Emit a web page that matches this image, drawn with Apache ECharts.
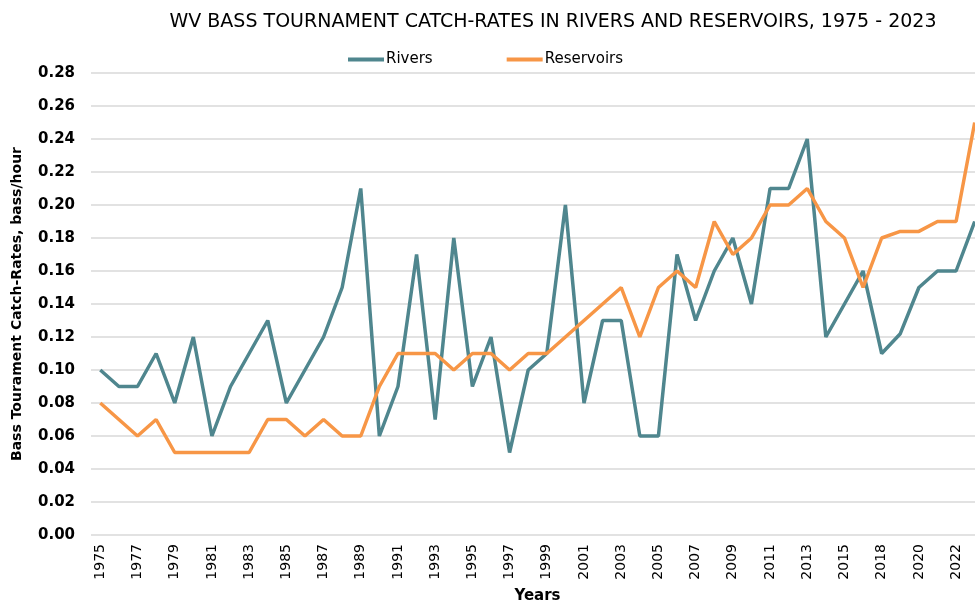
<!DOCTYPE html>
<html>
<head>
<meta charset="utf-8">
<script src="https://cdn.jsdelivr.net/npm/echarts@6/dist/echarts.min.js"></script>
<style>
  html, body { margin: 0; padding: 0; background: #fff; }
  #chart { width: 975px; height: 608px; }
</style>
</head>
<body>
<div id="chart"></div>
<script>
// years (2017 not in the source data)
const years = ['1975', '1976', '1977', '1978', '1979', '1980', '1981', '1982', '1983', '1984',
  '1985', '1986', '1987', '1988', '1989', '1990', '1991', '1992', '1993', '1994',
  '1995', '1996', '1997', '1998', '1999', '2000', '2001', '2002', '2003', '2004',
  '2005', '2006', '2007', '2008', '2009', '2010', '2011', '2012', '2013', '2014',
  '2015', '2016', '2018', '2019', '2020', '2021', '2022', '2023']

const rivers = [0.10, 0.09, 0.09, 0.11, 0.08, 0.12, 0.06, 0.09, 0.11, 0.13,
  0.08, 0.10, 0.12, 0.15, 0.21, 0.06, 0.09, 0.17, 0.07, 0.18,
  0.09, 0.12, 0.05, 0.10, 0.11, 0.20, 0.08, 0.13, 0.13, 0.06,
  0.06, 0.17, 0.13, 0.16, 0.18, 0.14, 0.21, 0.21, 0.24, 0.12,
  0.14, 0.16, 0.11, 0.122, 0.15, 0.16, 0.16, 0.19]

const reservoirs = [0.08, 0.07, 0.06, 0.07, 0.05, 0.05, 0.05, 0.05, 0.05, 0.07,
  0.07, 0.06, 0.07, 0.06, 0.06, 0.09, 0.11, 0.11, 0.11, 0.10,
  0.11, 0.11, 0.10, 0.11, 0.11, 0.12, 0.13, 0.14, 0.15, 0.12,
  0.15, 0.16, 0.15, 0.19, 0.17, 0.18, 0.20, 0.20, 0.21, 0.19,
  0.18, 0.15, 0.18, 0.184, 0.184, 0.19, 0.19, 0.25]

const font = 'Tahoma, "DejaVu Sans", sans-serif'

let option = {
  animation: false,
  title: {
    text: 'WV BASS TOURNAMENT CATCH-RATES IN RIVERS AND RESERVOIRS, 1975 - 2023',
    left: 548,
    textAlign: 'center',
    top: 8,
    textStyle: {
      fontFamily: font,
      fontSize: 19,
      fontWeight: 'normal',
      color: '#000'
    }
  },
  legend: {
    data: ['Rivers', 'Reservoirs'],
    left: 343,
    top: 47,
    icon: 'rect',
    itemWidth: 36,
    itemHeight: 4,
    itemGap: 74,
    textStyle: {
      fontFamily: font,
      fontSize: 15,
      color: '#000',
      padding: [0, 0, 0, -3]
    }
  },
  // plot area runs past the right edge, as in the original
  grid: {
    left: 91,
    width: 893,
    top: 73,
    bottom: 73,
    containLabel: false,
    outerBoundsMode: 'none'
  },
  xAxis: {
    type: 'category',
    data: years,
    boundaryGap: true,
    name: 'Years',
    nameLocation: 'middle',
    nameGap: 54,
    nameTextStyle: {
      fontFamily: font,
      fontSize: 15,
      fontWeight: 'bold',
      color: '#000'
    },
    axisLine: { show: false },
    axisTick: { show: false },
    axisLabel: {
      interval: 1,
      rotate: 90,
      fontFamily: font,
      fontSize: 14,
      color: '#000',
      margin: 9
    }
  },
  yAxis: {
    type: 'value',
    min: 0,
    max: 0.28,
    interval: 0.02,
    name: 'Bass Tourament Catch-Rates, bass/hour',
    nameLocation: 'middle',
    nameGap: 67,
    nameTextStyle: {
      fontFamily: font,
      fontSize: 14,
      fontWeight: 'bold',
      color: '#000'
    },
    axisLabel: {
      formatter: v => v.toFixed(2),
      fontFamily: font,
      fontSize: 15,
      fontWeight: 'bold',
      color: '#000',
      margin: 16
    },
    splitLine: {
      show: true,
      lineStyle: { color: '#d9d9d9', width: 1.5 }
    }
  },
  series: [
    {
      name: 'Rivers',
      type: 'line',
      data: rivers,
      showSymbol: false,
      itemStyle: { color: '#4f868e' },
      lineStyle: { color: '#4f868e', width: 3.5 }
    },
    {
      name: 'Reservoirs',
      type: 'line',
      data: reservoirs,
      showSymbol: false,
      itemStyle: { color: '#f79646' },
      lineStyle: { color: '#f79646', width: 3.5 }
    }
  ]
}

let myChart = echarts.init(document.getElementById('chart'))
myChart.setOption(option)
</script>
</body>
</html>
